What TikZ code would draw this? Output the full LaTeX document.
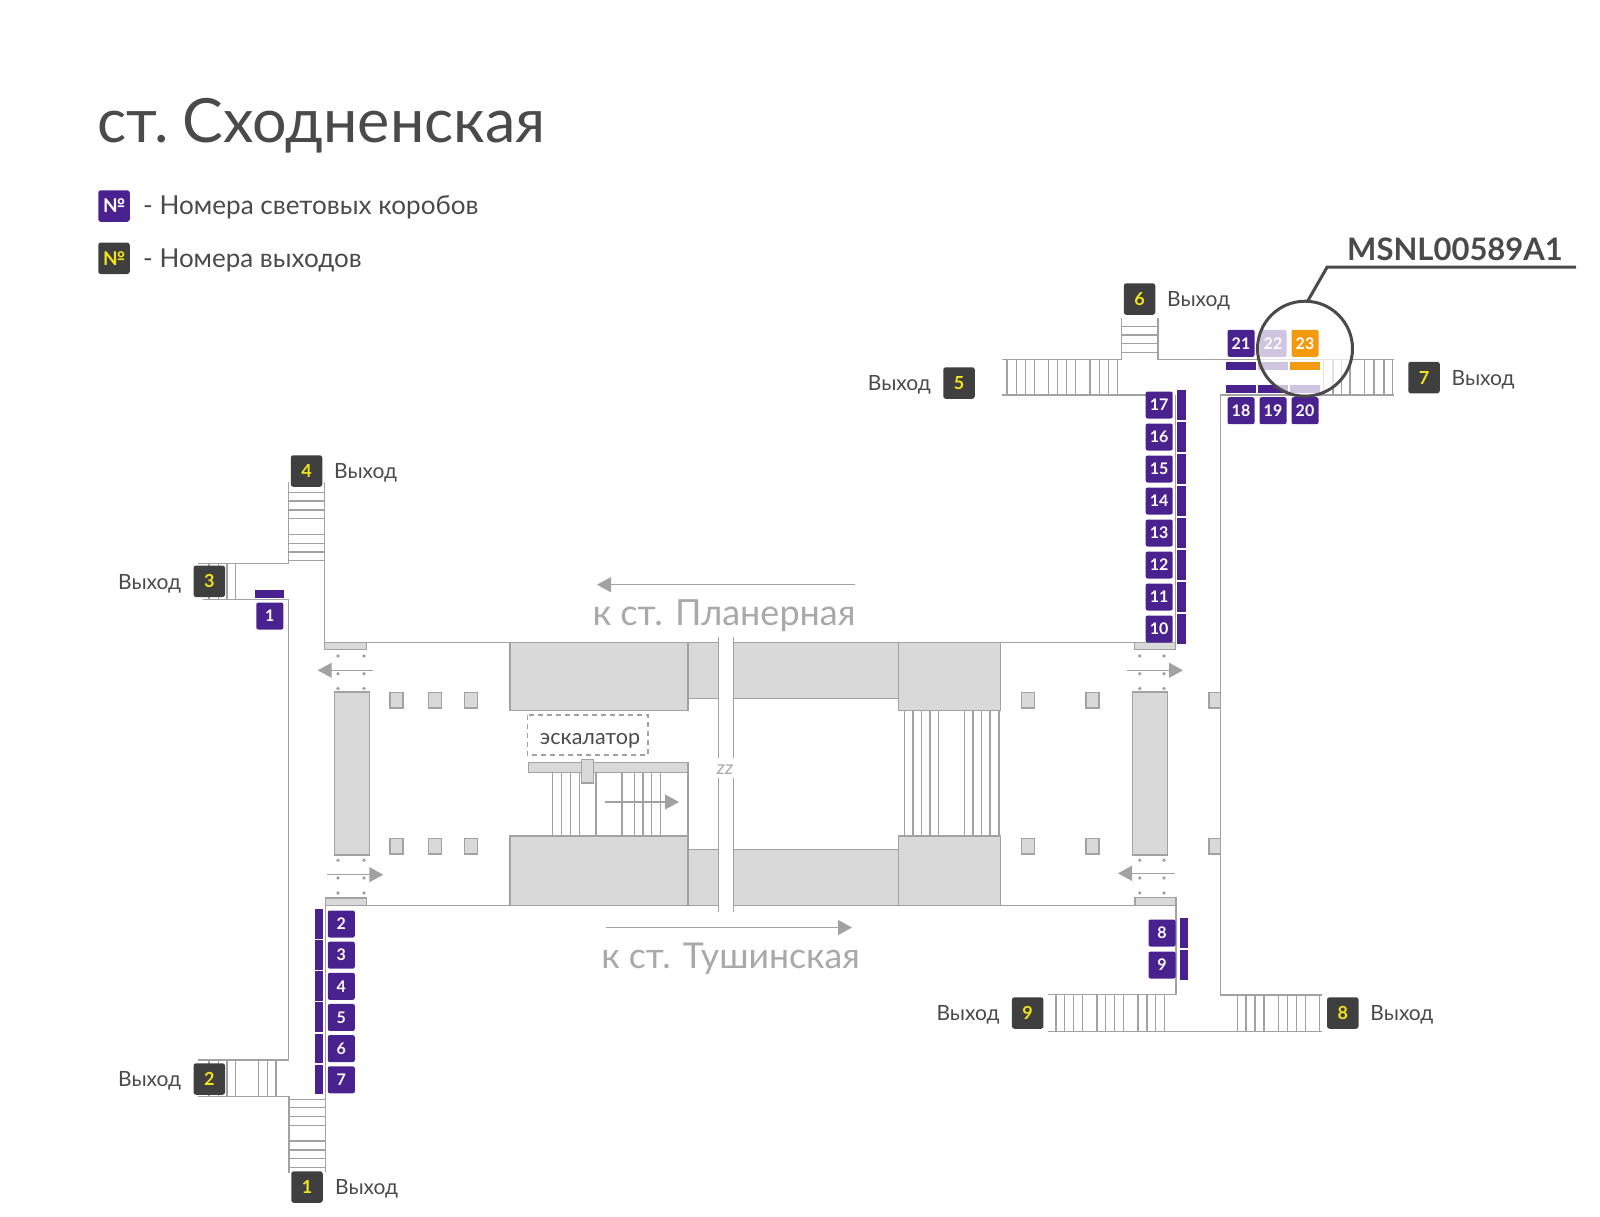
\documentclass[tikz,border=0pt]{standalone}
\usepackage{fontspec}
\setmainfont{Lato}
\usetikzlibrary{arrows.meta}
\usetikzlibrary{positioning}

\definecolor{wallgray}{HTML}{A2A2A2}
\definecolor{blockgray}{HTML}{D9D9D9}
\definecolor{boxpurple}{HTML}{4A2290}
\definecolor{boxlilac}{HTML}{CFC5E0}
\definecolor{boxorange}{HTML}{F39A0E}
\definecolor{exitdark}{HTML}{3F3F3F}
\definecolor{exityellow}{HTML}{F2E31B}
\definecolor{textdark}{HTML}{4A4A4A}
\definecolor{textgray}{HTML}{A9A9A9}

\tikzset{
    wall/.style={draw=wallgray, line width=1.4pt},
    stair/.style={draw=wallgray, line width=1.25pt},
    block/.style={draw=wallgray, fill=blockgray, line width=1.4pt},
    dirarrow/.style={draw=wallgray, line width=1.2pt, -{Triangle[length=14pt,width=15pt]}},
    exitnum/.style={fill=exitdark, text=exityellow, rounded corners=2.5pt, minimum size=31.5pt, inner sep=0pt, font=\fontsize{18}{18}\selectfont\bfseries},
    boxnum/.style={fill=boxpurple, text=white, rounded corners=2pt, minimum size=27pt, inner sep=0pt, font=\fontsize{16}{16}\selectfont\bfseries},
    exitlabel/.style={text=textdark, inner sep=0pt, yshift=-2pt, font=\fontsize{21}{21}\selectfont},
}

\begin{document}
\begin{tikzpicture}[x=1pt, y=-1pt]
    \useasboundingbox (0,0) rectangle (1600,1216);

    % Title and legend
    \node[anchor=base west, inner sep=0pt, text=textdark, font=\fontsize{61}{61}\selectfont] (title) at (97,142.7) {ст.\kern13.5ptСходненская};
    \node[exitnum, fill=boxpurple, text=white, font=\fontsize{19}{19}\selectfont\bfseries] (legendbox) at (114,206) {№};
    \node[exitnum, font=\fontsize{19}{19}\selectfont\bfseries] (legendexit) at (114,258.3) {№};
    \node[anchor=west, inner sep=0pt, text=textdark, font=\fontsize{26.1}{26.1}\selectfont] (legendboxtext) at (143,207.5) {- Номера световых коробов};
    \node[anchor=west, inner sep=0pt, text=textdark, font=\fontsize{26}{26}\selectfont] (legendexittext) at (143,260.5) {- Номера выходов};

    % Platform blocks
    \draw[block] (510,642.3) rectangle (688,710.3);
    \draw[block] (688,642.3) rectangle (726,698.3);
    \draw[block] (726,642.3) rectangle (898.7,698.3);
    \draw[block] (898.7,642.3) rectangle (1000.3,710.3);
    \draw[block] (510,836) rectangle (688,905.3);
    \draw[block] (688,849.3) rectangle (726,905.3);
    \draw[block] (726,849.3) rectangle (898.7,905.3);
    \draw[block] (898.7,836) rectangle (1000.3,905.3);

    % Long walls of the hall
    \draw[wall] (324.3,642.3) -- (1176,642.3);
    \draw[wall] (325.7,905.3) -- (1176,905.3);

    % Break of the hall
    \fill[white] (719.2,630) rectangle (732.8,920);
    \draw[wall] (718.6,637.3) -- (718.6,758);
    \draw[wall] (718.6,778) -- (718.6,911.7);
    \draw[wall] (733.4,637.3) -- (733.4,758);
    \draw[wall] (733.4,778) -- (733.4,911.7);
    \node[text=textgray, inner sep=0pt, font=\fontsize{19}{19}\selectfont\itshape] (breakmark) at (725,769.5) {zz};

    % Middle stairs
    \foreach \x in {904.2,912.9,921.8,930,938.7,964.5,973.1,981.7,990,999} {
        \draw[stair] (\x,710.3) -- (\x,836);
    }

    % Escalator
    \foreach \x in {552.7,561.6,570.6,579.5,596,621.9,634.6,642.9,651.8,660.8} {
        \draw[stair] (\x,772.7) -- (\x,836);
    }
    \draw[stair] (688,772.7) -- (688,836);
    \draw[block] (528.2,762.7) rectangle (688,772.7);
    \draw[block] (581.2,759.3) rectangle (593.3,783);
    \draw[stair, dashed, dash pattern=on 5pt off 4pt] (527.2,715) rectangle (648,755);
    \node[text=textdark, inner sep=0pt, font=\fontsize{21.5}{21.5}\selectfont] (escalator) at (590,740.5) {эскалатор};
    \draw[dirarrow] (604.7,802) -- (679,802);

    % Columns
    \foreach \x/\w in {390/13,428.3/13,464.3/13,1021.3/13.4,1086/13,1209/11.3} {
        \draw[block, line width=1.2pt] (\x,692.7) rectangle ++(\w,15.3);
        \draw[block, line width=1.2pt] (\x,838.7) rectangle ++(\w,15.3);
    }

    % Pass blocks at the ends of the hall
    \draw[block] (334.3,692) rectangle (369.3,855);
    \draw[block] (1132.7,692) rectangle (1167.7,855);
    \draw[block, line width=1.2pt] (324.3,642.3) rectangle (366.7,649.3);
    \draw[block, line width=1.2pt] (325.7,898) rectangle (366.3,905.3);
    \draw[block, line width=1.2pt] (1134.3,642.3) rectangle (1175.7,649.3);
    \draw[block, line width=1.2pt] (1135,897.7) rectangle (1176,905.3);

    % Dots and walking directions
    \foreach \x in {338,364,1139.7,1164} {
        \foreach \y in {656,673.7,688.5,860.2,878,893} {
            \fill[wallgray] (\x,\y) circle (1.9pt);
        }
    }
    \draw[dirarrow] (373.3,670.3) -- (317.7,670.3);
    \draw[dirarrow] (327,874.7) -- (383.3,874.7);
    \draw[dirarrow] (1126.7,670.3) -- (1183,670.3);
    \draw[dirarrow] (1174.7,873.3) -- (1118,873.3);

    % Left side: exits 1 to 4
    \draw[wall] (198.3,563.3) -- (288.7,563.3) -- (288.7,482);
    \draw[wall] (324.3,482) -- (324.3,642.3);
    \draw[wall] (203,599.7) -- (288.5,599.7) -- (288.5,1060) -- (198.3,1060);
    \draw[wall] (198.3,1096.7) -- (289,1096.7) -- (289,1172.7);
    \draw[wall] (325.7,905.3) -- (325.7,1171.7);
    \foreach \y in {492.3,501,510,518.7,534.3,543.3,552,560.7} {
        \draw[stair] (288.7,\y) -- (324.3,\y);
    }
    \foreach \y in {1099.3,1107.7,1116.7,1125.3,1141,1150,1158.7,1167.7} {
        \draw[stair] (289,\y) -- (325.7,\y);
    }
    \foreach \x in {209,218.3,227,235.7} {
        \draw[stair] (\x,563.3) -- (\x,599.7);
    }
    \foreach \x in {209,218.3,227,235.7,258.7,267.3,276} {
        \draw[stair] (\x,1060) -- (\x,1096.7);
    }

    % Right side: exits 5 to 9
    \draw[wall] (1002,359.3) -- (1121.3,359.3) -- (1121.3,318.3);
    \draw[wall] (1158,318.3) -- (1158,359.3) -- (1394.2,359.3);
    \draw[wall] (1002,395) -- (1146,395);
    \draw[wall] (1175.7,395) -- (1175.7,642.3);
    \draw[wall] (1394.2,395) -- (1220.5,395) -- (1220.5,995) -- (1322.3,995);
    \draw[wall] (1176,897.7) -- (1176,994.3) -- (1048.3,994.3);
    \draw[wall] (1048.3,1031.7) -- (1322.3,1031.7);
    \foreach \y in {326.3,335,343.7,352.3} {
        \draw[stair] (1121.3,\y) -- (1158,\y);
    }
    \foreach \x in {1006.9,1016.5,1025.3,1034.4,1048.6,1057.8,1066.6,1075.4,1090,1099.5,1108.7,1117.5} {
        \draw[stair] (\x,359.3) -- (\x,395);
    }
    \foreach \x in {1323.8,1333,1341.8,1350,1364.7,1373.9,1383.9,1392.3} {
        \draw[stair] (\x,359.3) -- (\x,395);
    }
    \foreach \x in {1056,1064.7,1073.7,1082.7,1097,1105.7,1114.7,1123.7,1138,1147,1155.7,1164.7} {
        \draw[stair] (\x,994.3) -- (\x,1031.7);
    }
    \foreach \x in {1237.3,1246,1255,1264,1278.3,1287.3,1296.3,1305.3,1319.7} {
        \draw[stair] (\x,995) -- (\x,1031.7);
    }

    % Light box bars
    \fill[boxpurple] (255,589.7) rectangle (284.3,597.7);
    \foreach \i in {0,...,5} {
        \fill[boxpurple] (314.7,909+31.15*\i) rectangle (323,938.7+31.15*\i);
    }
    \foreach \i in {0,...,7} {
        \fill[boxpurple] (1177.2,390+32*\i) rectangle (1186,420+32*\i);
    }
    \fill[boxpurple] (1180.3,918.3) rectangle (1188.3,948);
    \fill[boxpurple] (1180.3,950) rectangle (1188.3,979.7);
    \foreach \x in {1226.2,1258.3} {
        \fill[boxpurple] (\x,385) rectangle ++(29.6,8);
    }
    \fill[boxpurple] (1226.2,361.7) rectangle ++(29.6,8);

    % Callout circle lightens what lies under it
    \fill[white, opacity=0.7] (1305,348.7) circle (47.5pt);
    \fill[boxlilac] (1258.3,361.7) rectangle ++(29.6,8);
    \fill[boxorange] (1290,361.7) rectangle ++(30,8);
    \fill[boxlilac] (1290,385) rectangle ++(30,8);

    % Light boxes
    \node[boxnum] (box1) at (269.8,616) {1};
    \foreach \n [evaluate=\n as \yy using 924+31.15*(\n-2)] in {2,...,7} {
        \node[boxnum] (box\n) at (341.3,\yy) {\n};
    }
    \node[boxnum] (box8) at (1162,933) {8};
    \node[boxnum] (box9) at (1162,965) {9};
    \foreach \n [evaluate=\n as \yy using 629-32*(\n-10)] in {10,...,17} {
        \node[boxnum] (box\n) at (1159.2,\yy) {\n};
    }
    \node[boxnum] (box18) at (1241,410.7) {18};
    \node[boxnum] (box19) at (1273,410.7) {19};
    \node[boxnum] (box20) at (1305,410.7) {20};
    \node[boxnum] (box21) at (1241,343.3) {21};
    \node[boxnum, fill=boxlilac] (box22) at (1273,343.3) {22};
    \node[boxnum, fill=boxorange] (box23) at (1305,343.3) {23};

    % Exits
    \node[exitnum] (exit1) at (307,1187) {1};
    \node[exitnum] (exit2) at (209.3,1079) {2};
    \node[exitnum] (exit3) at (209.3,581.3) {3};
    \node[exitnum] (exit4) at (306.5,471) {4};
    \node[exitnum] (exit5) at (959,383) {5};
    \node[exitnum] (exit6) at (1139.5,299) {6};
    \node[exitnum] (exit7) at (1424,377.5) {7};
    \node[exitnum] (exit8) at (1342.8,1013) {8};
    \node[exitnum] (exit9) at (1027.7,1013) {9};
    \node[exitlabel, right=12pt of exit1] (label1) {Выход};
    \node[exitlabel, left=12pt of exit2] (label2) {Выход};
    \node[exitlabel, left=12pt of exit3] (label3) {Выход};
    \node[exitlabel, right=11.5pt of exit4] (label4) {Выход};
    \node[exitlabel, left=12pt of exit5] (label5) {Выход};
    \node[exitlabel, right=11.5pt of exit6] (label6) {Выход};
    \node[exitlabel, right=11.5pt of exit7] (label7) {Выход};
    \node[exitlabel, right=11.5pt of exit8] (label8) {Выход};
    \node[exitlabel, left=12pt of exit9] (label9) {Выход};

    % Directions of travel
    \draw[dirarrow] (855,584.7) -- (597,584.7);
    \node[text=textgray, inner sep=0pt, font=\fontsize{36}{36}\selectfont] (towardsplan) at (724,616) {к ст. Планерная};
    \draw[dirarrow] (606,927.5) -- (852,927.5);
    \node[text=textgray, inner sep=0pt, font=\fontsize{35.6}{35.6}\selectfont] (towardstush) at (730.5,959) {к ст. Тушинская};

    % Callout
    \draw[draw=textdark, line width=3pt] (1305,348.7) circle (47.5pt);
    \draw[draw=textdark, line width=3pt] (1307.3,301.7) -- (1327.2,267) -- (1576,267);
    \node[anchor=base west, inner sep=0pt, text=textdark, font=\fontsize{31}{31}\selectfont\bfseries] (code) at (1347,260) {MSNL00589A1};
\end{tikzpicture}
\end{document}
